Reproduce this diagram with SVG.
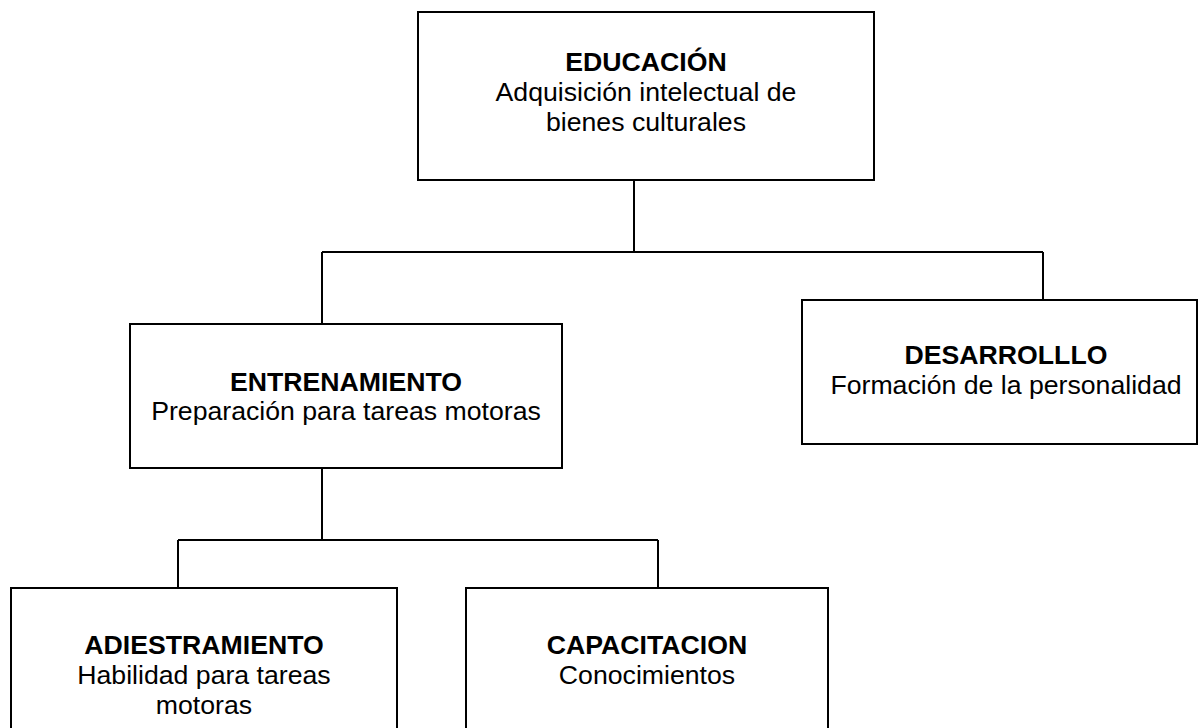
<svg xmlns="http://www.w3.org/2000/svg" width="1198" height="728" viewBox="0 0 1198 728">
<style>
.box{fill:#fff;stroke:#000;stroke-width:2}
.ln{fill:none;stroke:#000;stroke-width:2}
text{font-family:"Liberation Sans",Arial,sans-serif;font-size:26.67px;fill:#000;text-anchor:middle}
.b{font-weight:bold}
</style>
<rect width="1198" height="728" fill="#fff"/>
<g id="connectors">
<path class="ln" d="M634 180V252M322 252H1043M322 252V324M1043 252V300"/>
<path class="ln" d="M322 468V540M178 540H658M178 540V588M658 540V588"/>
</g>
<g id="educacion">
<rect class="box" x="418" y="12" width="456" height="168"/>
<text class="b" x="646" y="71">EDUCACIÓN</text>
<text x="646" y="101">Adquisición intelectual de</text>
<text x="646" y="131">bienes culturales</text>
</g>
<g id="entrenamiento">
<rect class="box" x="130" y="324" width="432" height="144"/>
<text class="b" x="346" y="391">ENTRENAMIENTO</text>
<text x="346" y="420">Preparación para tareas motoras</text>
</g>
<g id="desarrollo">
<rect class="box" x="802" y="300" width="395" height="144"/>
<text class="b" x="1006" y="364">DESARROLLLO</text>
<text x="1006" y="394">Formación de la personalidad</text>
</g>
<g id="adiestramiento">
<rect class="box" x="11" y="588" width="386" height="160"/>
<text class="b" x="204" y="654">ADIESTRAMIENTO</text>
<text x="204" y="684">Habilidad para tareas</text>
<text x="204" y="714">motoras</text>
</g>
<g id="capacitacion">
<rect class="box" x="466" y="588" width="362" height="160"/>
<text class="b" x="647" y="654">CAPACITACION</text>
<text x="647" y="684">Conocimientos</text>
</g>
</svg>
